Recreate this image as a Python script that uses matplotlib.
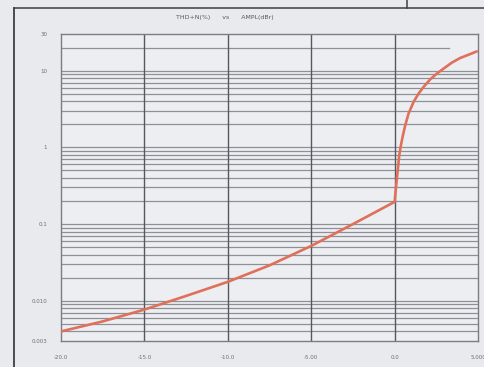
import numpy as np
import matplotlib
matplotlib.use("Agg")
import matplotlib.pyplot as plt
from matplotlib.lines import Line2D
from matplotlib.ticker import FixedLocator, NullFormatter, NullLocator

# Measured THD+N versus output amplitude
ampl_dbr = [-20.0, -17.5, -15.0, -12.5, -10.0, -7.5, -5.0, -2.5, 0.0,
            0.08, 0.14, 0.20, 0.28, 0.38, 0.50, 0.64, 0.84,
            1.14, 1.44, 1.74, 2.14, 2.53, 2.93, 3.43, 3.93, 4.43, 4.93]
thdn_pct = [0.0040, 0.0054, 0.0077, 0.0116, 0.0177, 0.0290, 0.0520, 0.100, 0.195,
            0.294, 0.396, 0.533, 0.794, 1.07, 1.44, 1.95, 2.77,
            3.92, 5.03, 6.14, 7.71, 9.14, 10.6, 12.7, 14.6, 16.1, 17.8]

x_ticks = [-20.0, -15.0, -10.0, -5.0, 0.0, 5.0]
x_tick_labels = ["-20.0", "-15.0", "-10.0", "-5.00", "0.0", "5.000"]
y_ticks = [0.003, 0.01, 0.1, 1, 10, 30]
y_tick_labels = ["0.003", "0.010", "0.1", "1", "10", "30"]

bg = "#e8eaee"
fig = plt.figure(figsize=(4.85, 3.67), dpi=100, facecolor=bg)
ax = fig.add_axes([61 / 485, 1 - 341 / 367, 417 / 485, 307 / 367], facecolor="#eceef2")

ax.set_yscale("log")
ax.set_xlim(-20, 5)
ax.set_ylim(0.003, 30)

# horizontal grid: every 1..9 step of each decade
grid_vals = []
for dec in [0.001, 0.01, 0.1, 1, 10]:
    for m in range(1, 10):
        v = m * dec
        if 0.003 < v < 30:
            grid_vals.append(v)
for v in grid_vals:
    if v == 20:
        ax.axhline(v, xmin=0, xmax=0.93, color="#8d9096", lw=0.9, zorder=1)
    else:
        ax.axhline(v, color="#8d9096", lw=0.9, zorder=1)
for xv in x_ticks[1:-1]:
    ax.axvline(xv, color="#55585e", lw=1.0, zorder=1)

ax.plot(ampl_dbr, thdn_pct, color="#e0705a", lw=1.9, zorder=3,
        solid_capstyle="round", solid_joinstyle="round")

ax.xaxis.set_major_locator(FixedLocator(x_ticks))
ax.set_xticklabels(x_tick_labels)
ax.yaxis.set_major_locator(FixedLocator(y_ticks))
ax.yaxis.set_minor_locator(NullLocator())
ax.yaxis.set_minor_formatter(NullFormatter())
ax.set_yticklabels(y_tick_labels)
ax.tick_params(axis="both", length=0, labelsize=4.0, colors="#6a6d73")
ax.tick_params(axis="x", pad=10)
ax.tick_params(axis="y", pad=10)

for s in ax.spines.values():
    s.set_color("#7a7d83")
    s.set_linewidth(1.0)

fig.text(225 / 485, 1 - 17 / 367, "THD+N(%)      vs      AMPL(dBr)",
         ha="center", va="center", fontsize=4.5, color="#55585e")

# outer frame of the chart panel
W, H = 485, 367
fig.add_artist(Line2D([14 / W, 14 / W], [0, 1 - 8 / H], transform=fig.transFigure,
                      color="#3c3f45", lw=1.3))
fig.add_artist(Line2D([14 / W, 1], [1 - 8 / H, 1 - 8 / H], transform=fig.transFigure,
                      color="#3c3f45", lw=1.1))
fig.add_artist(Line2D([407 / W, 407 / W], [1 - 8 / H, 1], transform=fig.transFigure,
                      color="#3c3f45", lw=1.1))

fig.savefig("out.png", dpi=100, facecolor=bg)
